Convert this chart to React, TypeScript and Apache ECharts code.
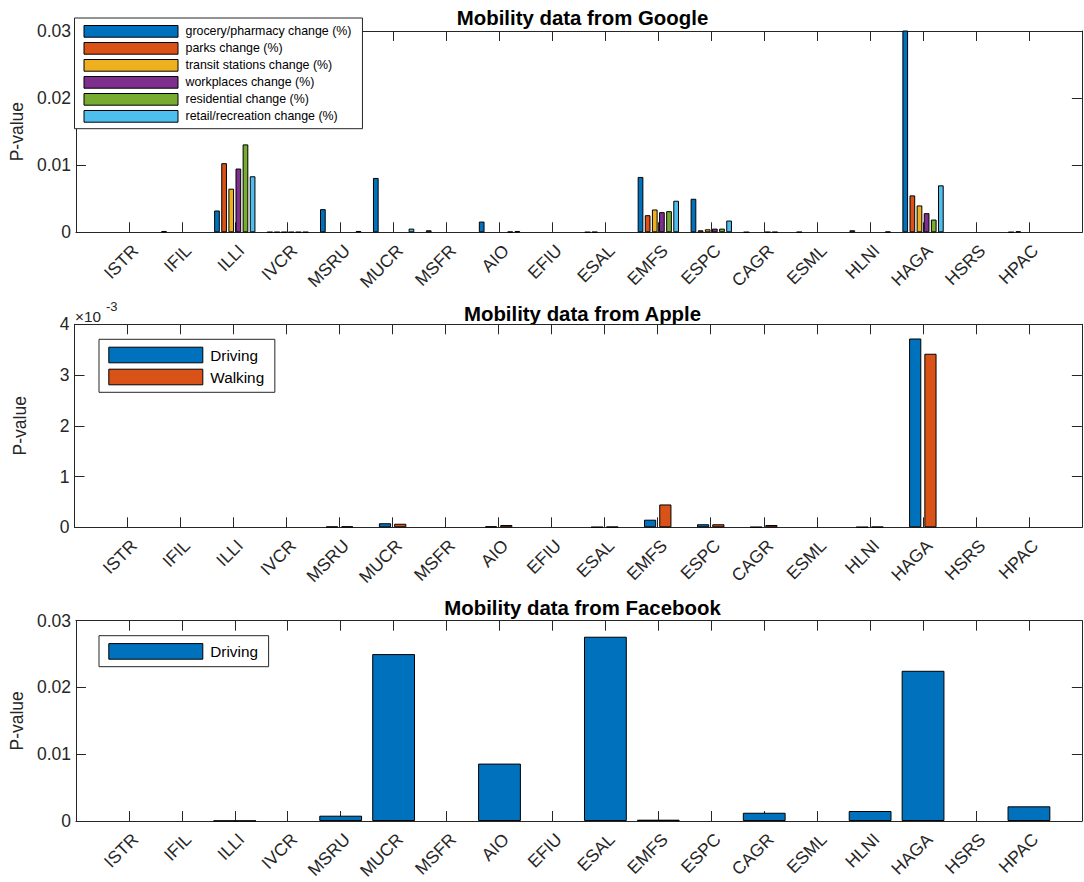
import React, { useEffect, useRef } from 'react';
import * as echarts from 'echarts';

// ---------- data ----------
const categories = ['ISTR', 'IFIL', 'ILLI', 'IVCR', 'MSRU', 'MUCR', 'MSFR', 'AIO', 'EFIU', 'ESAL', 'EMFS', 'ESPC', 'CAGR', 'ESML', 'HLNI', 'HAGA', 'HSRS', 'HPAC'];

const googleNames = [
  'grocery/pharmacy change (%)',
  'parks change (%)',
  'transit stations change (%)',
  'workplaces change (%)',
  'residential change (%)',
  'retail/recreation change (%)',
];
const googleColors = ['#0072BD', '#D95319', '#EDB120', '#7E2F8E', '#77AC30', '#4DBEEE'];

const groceryPharmacy = [0, 0.0002, 0.00325, 0.00003, 0.00345, 0.0081, 0.0003, 0.0016, 0, 0.00002, 0.00825, 0.005, 0.00002, 0.00005, 0.0003, 0.031, 0, 0.00002];
const parks = [0, 0, 0.0103, 0.00003, 0, 0, 0, 0, 0, 0.00005, 0.00255, 0.0003, 0, 0, 0, 0.0055, 0, 0.00015];
const transitStations = [0, 0, 0.0065, 0.00003, 0, 0, 0, 0, 0, 0, 0.0034, 0.00045, 0, 0, 0, 0.004, 0, 0];
const workplaces = [0, 0, 0.0095, 0.00003, 0, 0, 0, 0, 0, 0, 0.003, 0.00055, 0.00004, 0, 0, 0.00285, 0, 0];
const residential = [0, 0, 0.0131, 0.00003, 0, 0, 0, 0.0001, 0, 0, 0.00315, 0.00055, 0.00004, 0, 0, 0.0019, 0, 0];
const retailRecreation = [0, 0, 0.00835, 0.00003, 0.0002, 0.00055, 0, 0.0002, 0, 0, 0.0047, 0.00175, 0, 0, 0.0001, 0.007, 0, 0];
const googleSeries = [groceryPharmacy, parks, transitStations, workplaces, residential, retailRecreation];

const appleNames = ['Driving', 'Walking'];
const appleColors = ['#0072BD', '#D95319'];
const appleDriving = [0, 0, 0, 0, 0.000015, 0.00008, 0, 0.00002, 0, 0.000005, 0.00015, 0.00006, 0.000005, 0, 0.000005, 0.00372, 0, 0];
const appleWalking = [0, 0, 0, 0, 0.00002, 0.00007, 0, 0.000045, 0, 0.00001, 0.00045, 0.00006, 0.000045, 0, 0.00001, 0.00342, 0, 0];
const appleSeries = [appleDriving, appleWalking];

const facebookNames = ['Driving'];
const facebookColors = ['#0072BD'];
const facebookDriving = [0, 0, 0.00005, 0, 0.0008, 0.025, 0, 0.0086, 0, 0.0276, 0.0002, 0, 0.00124, 0, 0.0015, 0.0225, 0, 0.0022];

const googleYTicks = [0, 0.01, 0.02, 0.03];
const appleYTicks = [0, 0.001, 0.002, 0.003, 0.004];
const facebookYTicks = [0, 0.01, 0.02, 0.03];

const titles = ['Mobility data from Google', 'Mobility data from Apple', 'Mobility data from Facebook'];

// ---------- style ----------
const AX = '#262626';
const FONT = '"Liberation Sans", Arial, Helvetica, sans-serif';
const LEFT = 74.5;
const WIDTH = 1016;
const grids = [
  { left: LEFT, top: 31, width: WIDTH, height: 201.3 },
  { left: LEFT, top: 324.3, width: WIDTH, height: 203 },
  { left: LEFT, top: 620.7, width: WIDTH, height: 202 },
];
const titleY = [18, 313.5, 607.5];

const padCats = ['', ...categories, ''];
// zero-height bars are not drawn (as in the reference)
const pad = (arr: number[]) => ['-', ...arr.map((v) => (v === 0 ? '-' : v)), '-'];

function xAxesFor(gi: number) {
  const line = { show: true, onZero: false, lineStyle: { color: AX, width: 1 } };
  const tick = { show: true, inside: true, length: 10, interval: 0, lineStyle: { color: AX, width: 1 } };
  return [
    {
      type: 'category', gridIndex: gi, data: padCats, boundaryGap: false, position: 'bottom',
      axisLine: line, axisTick: tick,
      axisLabel: {
        interval: 0, rotate: 45, align: 'right', verticalAlign: 'top', margin: 9,
        fontSize: 17.5, color: AX, fontFamily: FONT,
      },
      splitLine: { show: false },
    },
    {
      type: 'category', gridIndex: gi, data: padCats, boundaryGap: false, position: 'top',
      axisLine: line, axisTick: tick, axisLabel: { show: false }, splitLine: { show: false },
    },
  ];
}

function yAxesFor(gi: number, ticks: number[], formatter?: (v: number) => string) {
  const min = ticks[0];
  const max = ticks[ticks.length - 1];
  const interval = ticks[1] - ticks[0];
  const line = { show: true, onZero: false, lineStyle: { color: AX, width: 1 } };
  const tick = { show: true, inside: true, length: 10, lineStyle: { color: AX, width: 1 } };
  return [
    {
      type: 'value', gridIndex: gi, position: 'left', min, max, interval,
      axisLine: line, axisTick: tick,
      axisLabel: { fontSize: 17.5, color: AX, margin: 5, fontFamily: FONT, formatter },
      splitLine: { show: false },
      name: 'P-value', nameLocation: 'middle', nameGap: 46,
      nameTextStyle: { fontSize: 17.5, color: AX, fontFamily: FONT },
    },
    {
      type: 'value', gridIndex: gi, position: 'right', min, max, interval,
      axisLine: line, axisTick: tick, axisLabel: { show: false }, splitLine: { show: false },
    },
  ];
}

function barSeries(names: string[], colors: string[], data: number[][], gi: number, barWidth: number, barGap: string) {
  return names.map((name, i) => ({
    type: 'bar', name,
    xAxisIndex: gi * 2, yAxisIndex: gi * 2,
    data: pad(data[i]),
    barWidth, barGap,
    silent: true,
    itemStyle: { color: colors[i], borderColor: '#000', borderWidth: 1 },
  }));
}

function legendFor(names: string[], left: number, top: number, itemHeight: number, itemGap: number, fontSize: number, padding: number[]) {
  return {
    data: names, orient: 'vertical', left, top, padding,
    itemWidth: 94, itemHeight, itemGap, icon: 'rect', selectedMode: false,
    borderColor: AX, borderWidth: 1, backgroundColor: '#fff',
    itemStyle: { borderColor: '#000', borderWidth: 1 },
    textStyle: { fontSize, color: '#000', fontFamily: FONT, padding: [0, 0, 0, 2.5] },
  };
}

export default function App() {
  const ref = useRef<HTMLDivElement>(null);
  useEffect(() => {
    if (!ref.current) return;
    const chart = echarts.init(ref.current, undefined, { renderer: 'svg' });
    const option = {
      animation: false,
      backgroundColor: '#fff',
      grid: grids,
      xAxis: [...xAxesFor(0), ...xAxesFor(1), ...xAxesFor(2)],
      yAxis: [
        ...yAxesFor(0, googleYTicks),
        ...yAxesFor(1, appleYTicks, (v: number) => String(Math.round(v * 1000))),
        ...yAxesFor(2, facebookYTicks),
      ],
      legend: [
        legendFor(googleNames, 74.5, 18, 11.7, 4.3, 12.4, [7, 11, 6, 9]),
        legendFor(appleNames, 99, 339.3, 15.6, 5.4, 15.3, [7.4, 10.7, 7, 9.3]),
        legendFor(facebookNames, 99, 635.7, 15.6, 5.4, 15.3, [7.4, 10.7, 7, 9.3]),
      ],
      graphic: [
        ...titles.map((t, i) => ({
          type: 'text', x: 582.5, y: titleY[i], silent: true,
          style: { text: t, align: 'center', verticalAlign: 'middle', fontSize: 20.4, fontWeight: 'bold', fill: '#000', fontFamily: FONT },
        })),
        {
          type: 'text', x: 75, y: 324, silent: true,
          style: { text: '×10', align: 'left', verticalAlign: 'bottom', fontSize: 15.3, fill: AX, fontFamily: FONT },
        },
        {
          type: 'text', x: 106, y: 313, silent: true,
          style: { text: '-3', align: 'left', verticalAlign: 'bottom', fontSize: 13, fill: AX, fontFamily: FONT },
        },
      ],
      series: [
        ...barSeries(googleNames, googleColors, googleSeries, 0, 5.7, '25%'),
        ...barSeries(appleNames, appleColors, appleSeries, 1, 12.2, '25%'),
        ...barSeries(facebookNames, facebookColors, [facebookDriving], 2, 42.8, '25%'),
      ],
    };
    chart.setOption(option as any);
    return () => chart.dispose();
  }, []);
  return (
    <div
      ref={ref}
      style={{ position: 'absolute', left: 0, top: 0, width: 1084, height: 882, background: '#fff' }}
    />
  );
}
